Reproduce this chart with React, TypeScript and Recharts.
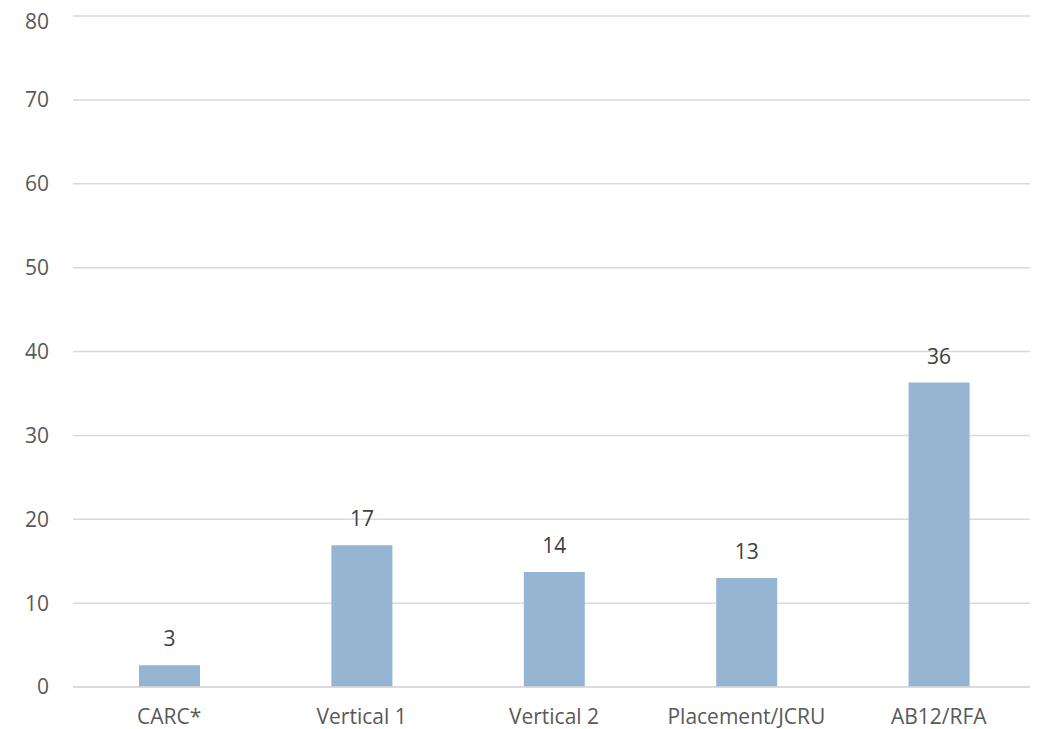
import React from 'react';
import { BarChart, Bar, XAxis, YAxis, CartesianGrid, LabelList } from 'recharts';

const categories = ['CARC*', 'Vertical 1', 'Vertical 2', 'Placement/JCRU', 'AB12/RFA'];
const values = [2.6, 16.9, 13.7, 13.0, 36.3];
const yTicks = [0, 10, 20, 30, 40, 50, 60, 70, 80];

const data = categories.map((name, i) => ({ name, value: values[i] }));

const font = '"Open Sans", sans-serif';

export default function App() {
  return (
    <div style={{ fontFamily: font }}>
      <BarChart
        width={1030}
        height={721}
        data={data}
        margin={{ top: 8, right: 3, left: 0, bottom: 6 }}
      >
        <CartesianGrid vertical={false} stroke="#d9d9d9" strokeWidth={1.5} />
        <XAxis
          dataKey="name"
          axisLine={{ stroke: '#d9d9d9', strokeWidth: 1.5 }}
          tickLine={false}
          tickSize={0}
          tickMargin={22}
          height={36}
          tick={{ fill: '#595959', fontSize: 21, fontFamily: font }}
        />
        <YAxis
          domain={[0, 80]}
          ticks={yTicks}
          axisLine={false}
          tickLine={false}
          tickSize={0}
          tickMargin={24}
          width={65}
          tick={{ fill: '#595959', fontSize: 21, fontFamily: font }}
        />
        <Bar dataKey="value" fill="#95b5d2" barSize={61} isAnimationActive={false}>
          <LabelList
            dataKey="value"
            position="top"
            offset={19}
            formatter={(v: number) => Math.round(v)}
            style={{ fill: '#404040', fontSize: 21, fontFamily: font }}
          />
        </Bar>
      </BarChart>
    </div>
  );
}
